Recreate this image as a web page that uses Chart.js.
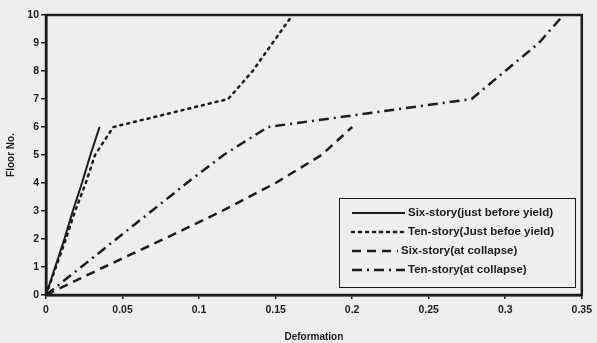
<!DOCTYPE html>
<html>
<head>
<meta charset="utf-8">
<script src="https://cdn.jsdelivr.net/npm/chart.js@4/dist/chart.umd.min.js"></script>
<style>
  body { margin: 0; background: #eeeeee; }
  #wrap { width: 597px; height: 343px; position: relative; }
</style>
</head>
<body>
<div id="wrap"><canvas id="grafico"></canvas></div>
<script>
// --- DATOS ---
const pisos = [0, 1, 2, 3, 4, 5, 6, 7, 8, 9, 10];
const seisFluencia = [0, 0.006, 0.012, 0.0175, 0.0235, 0.029, 0.035];
const diezFluencia = [0, 0.0065, 0.013, 0.019, 0.026, 0.032, 0.044, 0.119, 0.135, 0.148, 0.161];
const seisColapso = [0, 0.038, 0.077, 0.115, 0.15, 0.18, 0.2];
const diezColapso = [0, 0.023, 0.046, 0.069, 0.092, 0.116, 0.145, 0.278, 0.3, 0.322, 0.338];
const etiquetas = [
  'Six-story(just before yield)',
  'Ten-story(Just befoe yield)',
  'Six-story(at collapse)',
  'Ten-story(at collapse)'
];
const ticksX = [0, 0.05, 0.1, 0.15, 0.2, 0.25, 0.3, 0.35];

const tinta = '#1c1c1c';
const fuente = '"Liberation Sans", Arial, sans-serif';
const puntos = (xs) => xs.map((x, i) => ({ x: x, y: pisos[i] }));

const estilos = [
  { dash: [], width: 2 },
  { dash: [2, 5], width: 2.5 },
  { dash: [9, 6], width: 2.5 },
  { dash: [10, 5, 2, 5], width: 2.5 }
];

// fondo gris de escaneo + marco + leyenda dentro del gráfico
const marco = {
  id: 'marco',
  beforeDraw(chart) {
    const c = chart.ctx;
    c.save();
    c.fillStyle = '#eeeeee';
    c.fillRect(0, 0, chart.width, chart.height);
    c.restore();
  },
  afterDraw(chart) {
    const c = chart.ctx;
    const a = chart.chartArea;
    c.save();
    c.strokeStyle = tinta;
    c.lineWidth = 2.5;
    c.strokeRect(a.left, a.top, a.right - a.left, a.bottom - a.top);

    // leyenda
    const bx = 339, by = 198, bw = 236, bh = 89;
    c.fillStyle = '#eeeeee';
    c.fillRect(bx, by, bw, bh);
    c.lineWidth = 1;
    c.strokeRect(bx + 0.5, by + 0.5, bw, bh);
    c.font = 'bold 11.5px ' + fuente;
    c.textBaseline = 'middle';
    const finLinea = [405, 405, 398, 405];
    chart.data.datasets.forEach((ds, i) => {
      const y = by + 15 + i * 19;
      c.beginPath();
      c.setLineDash(estilos[i].dash);
      c.lineWidth = estilos[i].width;
      c.lineCap = i === 1 ? 'round' : 'butt';
      c.moveTo(352, y);
      c.lineTo(finLinea[i], y);
      c.stroke();
      c.setLineDash([]);
      c.fillStyle = tinta;
      c.fillText(ds.label, finLinea[i] + 3, y);
    });
    c.restore();
  }
};

const series = [seisFluencia, diezFluencia, seisColapso, diezColapso];

new Chart(document.getElementById('grafico'), {
  type: 'scatter',
  data: {
    datasets: series.map((s, i) => ({
      label: etiquetas[i],
      data: puntos(s),
      showLine: true,
      borderColor: tinta,
      borderWidth: estilos[i].width,
      borderDash: estilos[i].dash,
      borderCapStyle: i === 1 ? 'round' : 'butt',
      pointRadius: 0,
      tension: 0,
      fill: false
    }))
  },
  options: {
    responsive: true,
    maintainAspectRatio: false,
    animation: false,
    layout: { padding: { top: 15, right: 14, left: 5, bottom: 0 } },
    plugins: { legend: { display: false }, tooltip: { enabled: false } },
    scales: {
      x: {
        type: 'linear',
        min: 0,
        max: 0.35,
        afterBuildTicks: (s) => { s.ticks = ticksX.map(v => ({ value: v })); },
        afterFit: (s) => { s.height = 48; },
        grid: { drawOnChartArea: false, drawTicks: true, tickLength: 4, color: tinta, lineWidth: 1.5 },
        border: { display: true, color: tinta, width: 2.5 },
        ticks: {
          color: tinta,
          padding: 5,
          maxRotation: 0,
          font: { family: fuente, size: 10.5, weight: 'bold' },
          callback: (v) => String(Math.round(v * 100) / 100)
        },
        title: {
          display: true,
          text: 'Deformation',
          color: tinta,
          padding: { top: 6, bottom: 0 },
          font: { family: fuente, size: 10, weight: 'bold' }
        }
      },
      y: {
        min: 0,
        max: 10,
        afterFit: (s) => { s.width = 41; },
        grid: { drawOnChartArea: false, drawTicks: true, tickLength: 5, color: tinta, lineWidth: 1.5 },
        border: { display: true, color: tinta, width: 2.5 },
        ticks: {
          stepSize: 1,
          color: tinta,
          padding: 2,
          font: { family: fuente, size: 10.5, weight: 'bold' }
        },
        title: {
          display: true,
          text: 'Floor No.',
          color: tinta,
          padding: { top: 0, bottom: 4 },
          font: { family: fuente, size: 10, weight: 'bold' }
        }
      }
    }
  },
  plugins: [marco]
});
</script>
</body>
</html>
